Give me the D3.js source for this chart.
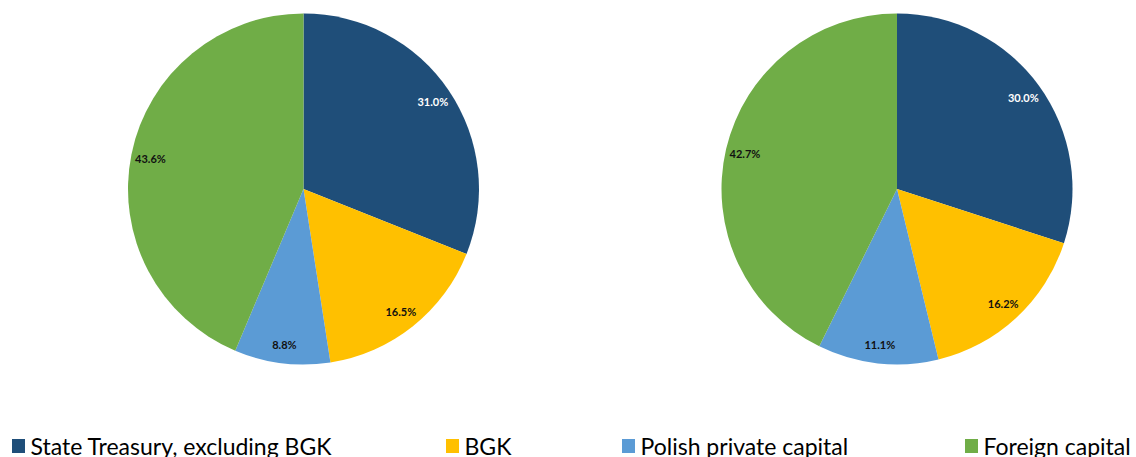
<!DOCTYPE html>
<html><head><meta charset="utf-8">
<script src="https://cdn.jsdelivr.net/npm/d3@7"></script>
<style>html,body{margin:0;padding:0;background:#fff;}svg{display:block;}</style>
</head><body>
<svg id="chart" width="1136" height="457"></svg>
<script>
const categories = ["State Treasury, excluding BGK", "BGK", "Polish private capital", "Foreign capital"];
const seriesLeft = [31.0, 16.5, 8.8, 43.6];
const seriesRight = [30.0, 16.2, 11.1, 42.7];
const colors = ["#1F4E79", "#FFC000", "#5B9BD5", "#70AD47"];
const labelColors = ["#ffffff", "#111111", "#111111", "#111111"];

const svg = d3.select("#chart");
const R = 175.5;
const pie = d3.pie().sort(null).value(d => d.v);
const arc = d3.arc().innerRadius(0).outerRadius(R);
const labelArc = d3.arc().innerRadius(R * 0.89).outerRadius(R * 0.89);

function drawPie(values, cx, cy) {
  const g = svg.append("g").attr("transform", `translate(${cx},${cy})`);
  const data = pie(values.map((v, i) => ({v, i})));
  g.selectAll("path").data(data).join("path")
    .attr("d", arc).attr("fill", d => colors[d.data.i]);
  g.selectAll("text").data(data).join("text")
    .attr("transform", d => `translate(${labelArc.centroid(d)})`)
    .attr("text-anchor", "middle").attr("dy", "0.45em")
    .attr("font-family", "Lato, 'Open Sans', sans-serif")
    .attr("font-weight", "bold").attr("font-size", 11)
    .attr("fill", d => labelColors[d.data.i])
    .text(d => d.data.v.toFixed(1) + "%");
}
drawPie(seriesLeft, 303.5, 189);
drawPie(seriesRight, 897, 189);

const legendX = [12, 446, 622, 965];
const lg = svg.append("g");
categories.forEach((c, i) => {
  lg.append("rect").attr("x", legendX[i]).attr("y", 439).attr("width", 13).attr("height", 14).attr("fill", colors[i]);
  lg.append("text").attr("x", legendX[i] + 18.5).attr("y", 455)
    .attr("font-family", "Lato, sans-serif").attr("font-size", 23).attr("fill", "#000")
    .text(c);
});
</script>
</body></html>
